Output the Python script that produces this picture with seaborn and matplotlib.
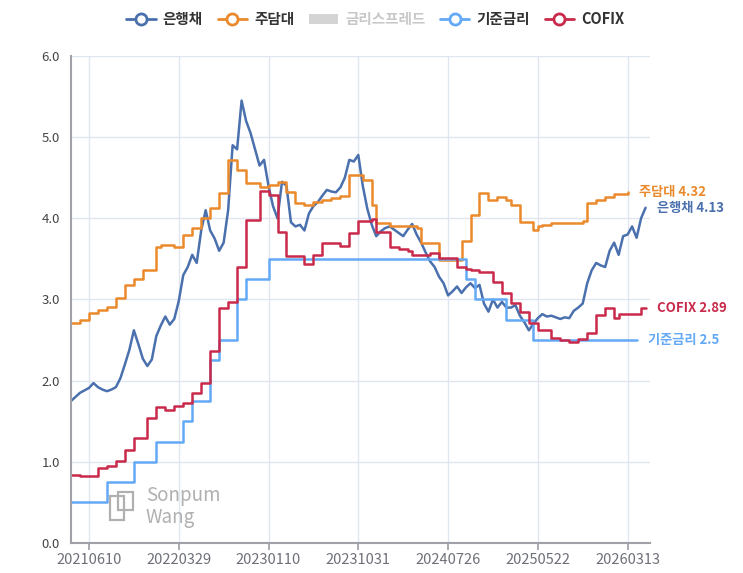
import numpy as np
import pandas as pd
import matplotlib
matplotlib.use("Agg")
import matplotlib.pyplot as plt
from matplotlib.lines import Line2D
from matplotlib.patches import Patch, Rectangle
import seaborn as sns

nan = np.nan

# 은행채 (bank bond yield)
bank_bond = [
    1.75, 1.80, 1.85, 1.88, 1.91, 1.97, 1.92, 1.89, 1.87, 1.89,
    1.92, 2.03, 2.20, 2.38, 2.62, 2.45, 2.27, 2.18, 2.26, 2.55,
    2.68, 2.79, 2.69, 2.76, 2.98, 3.30, 3.40, 3.55, 3.45, 3.85,
    4.10, 3.85, 3.75, 3.60, 3.70, 4.10, 4.90, 4.85, 5.45, 5.20,
    5.05, 4.85, 4.65, 4.72, 4.40, 4.15, 4.00, 4.45, 4.40, 3.95,
    3.90, 3.92, 3.85, 4.06, 4.15, 4.20, 4.28, 4.35, 4.33, 4.32,
    4.38, 4.50, 4.72, 4.70, 4.78, 4.40, 4.12, 3.92, 3.78, 3.84,
    3.88, 3.90, 3.86, 3.82, 3.78, 3.86, 3.93, 3.80, 3.70, 3.58,
    3.47, 3.40, 3.28, 3.20, 3.05, 3.10, 3.16, 3.08, 3.15, 3.20,
    3.14, 3.18, 2.95, 2.85, 3.00, 2.90, 2.97, 2.90, 2.90, 2.93,
    2.80, 2.72, 2.62, 2.70, 2.77, 2.82, 2.79, 2.80, 2.78, 2.76,
    2.78, 2.77, 2.86, 2.90, 2.95, 3.20, 3.36, 3.45, 3.42, 3.40,
    3.60, 3.70, 3.55, 3.78, 3.80, 3.90, 3.76, 4.00, 4.13,
]

# 주담대 (mortgage rate)
mortgage = [
    2.71, 2.71, 2.75, 2.75, 2.83, 2.83, 2.87, 2.87, 2.91, 2.91,
    3.02, 3.02, 3.18, 3.18, 3.25, 3.25, 3.36, 3.36, 3.36, 3.65,
    3.67, 3.67, 3.67, 3.65, 3.65, 3.79, 3.79, 3.88, 3.88, 4.00,
    4.00, 4.13, 4.13, 4.31, 4.31, 4.72, 4.72, 4.60, 4.60, 4.43,
    4.43, 4.43, 4.39, 4.39, 4.41, 4.41, 4.45, 4.45, 4.32, 4.32,
    4.19, 4.19, 4.16, 4.16, 4.20, 4.20, 4.22, 4.22, 4.25, 4.25,
    4.27, 4.27, 4.53, 4.53, 4.53, 4.47, 4.47, 4.16, 3.94, 3.94,
    3.94, 3.90, 3.90, 3.90, 3.90, 3.90, 3.90, 3.88, 3.69, 3.69,
    3.69, 3.69, 3.49, 3.49, 3.49, 3.49, 3.49, 3.72, 3.72, 4.04,
    4.04, 4.31, 4.31, 4.22, 4.22, 4.26, 4.26, 4.22, 4.16, 4.16,
    3.96, 3.96, 3.96, 3.86, 3.90, 3.92, 3.92, 3.94, 3.94, 3.94,
    3.94, 3.94, 3.94, 3.94, 3.97, 4.19, 4.19, 4.22, 4.22, 4.26,
    4.26, 4.30, 4.30, 4.30, 4.32, nan, nan, nan, nan,
]

# 기준금리 (base rate)
base_rate = ([0.5] * 8 + [0.75] * 6 + [1.0] * 5 + [1.25] * 6 + [1.5] * 2
             + [1.75] * 4 + [2.25] * 2 + [2.5] * 4 + [3.0] * 2 + [3.25] * 5
             + [3.5] * 44 + [3.25] * 2 + [3.0] * 7 + [2.75] * 6 + [2.5] * 24
             + [nan] * 2)

# COFIX
cofix = [
    0.84, 0.84, 0.82, 0.82, 0.82, 0.82, 0.92, 0.92, 0.95, 0.95,
    1.01, 1.01, 1.14, 1.14, 1.29, 1.29, 1.29, 1.54, 1.54, 1.68,
    1.68, 1.64, 1.64, 1.69, 1.69, 1.72, 1.72, 1.85, 1.85, 1.97,
    1.97, 2.37, 2.37, 2.90, 2.90, 2.97, 2.97, 3.40, 3.40, 3.98,
    3.98, 3.98, 4.34, 4.34, 4.29, 4.29, 3.83, 3.83, 3.53, 3.53,
    3.53, 3.53, 3.44, 3.44, 3.55, 3.55, 3.70, 3.70, 3.70, 3.70,
    3.66, 3.66, 3.82, 3.82, 3.97, 3.97, 3.97, 3.99, 3.83, 3.83,
    3.83, 3.65, 3.65, 3.62, 3.62, 3.60, 3.55, 3.55, 3.55, 3.55,
    3.57, 3.57, 3.51, 3.51, 3.51, 3.51, 3.40, 3.40, 3.38, 3.36,
    3.36, 3.34, 3.34, 3.34, 3.22, 3.22, 3.08, 3.08, 2.96, 2.96,
    2.84, 2.84, 2.71, 2.71, 2.62, 2.62, 2.62, 2.53, 2.53, 2.50,
    2.50, 2.48, 2.48, 2.51, 2.51, 2.59, 2.59, 2.81, 2.81, 2.89,
    2.89, 2.77, 2.82, 2.82, 2.82, 2.82, 2.82, 2.89, 2.89,
]

tick_labels = ["20210610", "20220329", "20230110", "20231031",
               "20240726", "20250522", "20260313"]

names = ["은행채", "주담대", "금리스프레드", "기준금리", "COFIX"]
colors = {"은행채": "#4a70ad", "주담대": "#eb8a2c", "기준금리": "#63a9f6",
          "COFIX": "#c92a4b"}

df = pd.DataFrame({"은행채": bank_bond, "주담대": mortgage,
                   "기준금리": base_rate, "COFIX": cofix})
df["idx"] = np.arange(len(df))

sns.set_theme(style="white")
plt.rcParams["font.family"] = ["Noto Sans CJK KR", "DejaVu Sans"]

fig = plt.figure(figsize=(7.43, 5.73), dpi=100)
ax = fig.add_axes([0.0956, 0.0524, 0.7793, 0.8499])

for name in ["은행채", "주담대", "기준금리", "COFIX"]:
    style = {} if name == "은행채" else {"drawstyle": "steps-post"}
    sns.lineplot(data=df, x="idx", y=name, color=colors[name], linewidth=1.8,
                 ax=ax, **style)

# end labels
for name in ["주담대", "은행채", "COFIX", "기준금리"]:
    s = df[name].dropna()
    ax.annotate(f"{name} {s.iloc[-1]:g}", xy=(s.index[-1], s.iloc[-1]),
                xytext=(8, 0), textcoords="offset points", va="center",
                ha="left", fontsize=9.5, fontweight="bold",
                color=colors[name], annotation_clip=False)

ax.set_xlim(0, 129)
ax.set_ylim(0, 6)
ax.set_yticks(np.arange(0, 7, 1))
ax.set_yticklabels([f"{v:.1f}" for v in range(7)])
ax.set_xticks([4 + 20 * k for k in range(len(tick_labels))])
ax.set_xticklabels(tick_labels)
ax.set_xlabel("")
ax.set_ylabel("")
ax.grid(True, color="#e0e6f1", linewidth=1)
ax.set_axisbelow(True)
for side in ["top", "right"]:
    ax.spines[side].set_visible(False)
for side in ["left", "bottom"]:
    ax.spines[side].set_color("#a0a0a8")
    ax.spines[side].set_linewidth(1.5)
ax.tick_params(axis="x", length=5, color="#a0a0a8", labelsize=10.5,
               labelcolor="#6e7079", pad=2, bottom=True)
ax.tick_params(axis="y", length=0, labelsize=9.5, labelcolor="#444444", pad=8)

# watermark
wm = "#b0b0b0"
fig.text(146 / 743, 1 - 495 / 573, "Sonpum", fontsize=13.5, color=wm,
         va="center", ha="left")
fig.text(146 / 743, 1 - 517 / 573, "Wang", fontsize=13.5, color=wm,
         va="center", ha="left")
fig.patches.append(Rectangle((110 / 743, 1 - 520 / 573), 14 / 743, 24 / 573,
                             transform=fig.transFigure, fill=False,
                             edgecolor=wm, linewidth=1.6))
fig.patches.append(Rectangle((118 / 743, 1 - 510 / 573), 15 / 743, 18 / 573,
                             transform=fig.transFigure, fill=False,
                             edgecolor=wm, linewidth=1.6))

# legend
handles = []
for name in names:
    if name == "금리스프레드":
        handles.append(Patch(facecolor="#d4d4d4", edgecolor="none"))
    else:
        handles.append(Line2D([0], [0], color=colors[name], linewidth=2,
                              marker="o", markersize=8,
                              markerfacecolor="white", markeredgewidth=2))
leg = fig.legend(handles, names, loc="center", bbox_to_anchor=(0.505, 0.966),
                 ncol=5, frameon=False, handlelength=2.0, handletextpad=0.5,
                 columnspacing=1.0, prop={"size": 10.5, "weight": "bold"})
for txt, name in zip(leg.get_texts(), names):
    txt.set_color("#c8c8c8" if name == "금리스프레드" else "#333333")

fig.savefig("out.png", dpi=100)
